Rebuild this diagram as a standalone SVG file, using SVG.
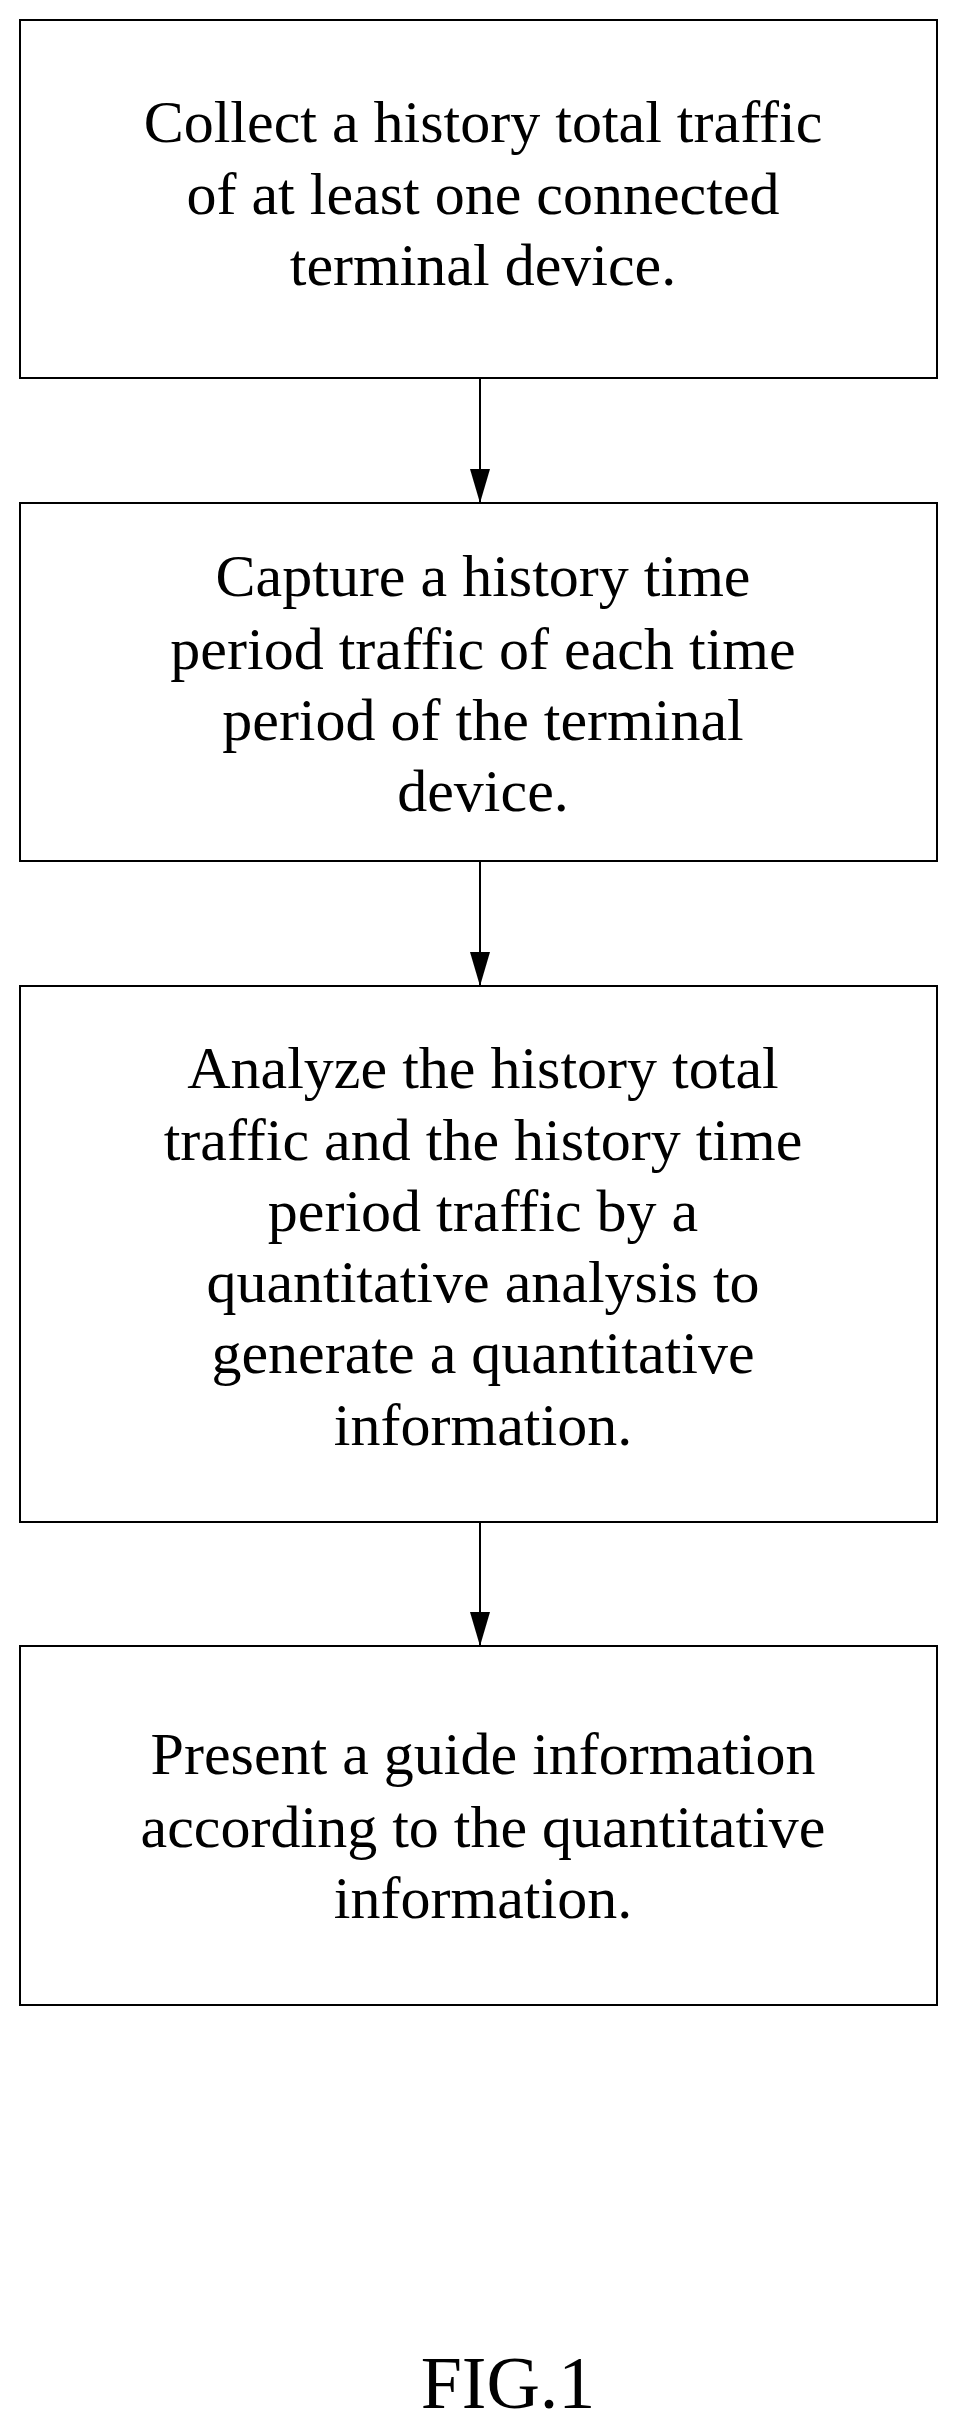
<svg xmlns="http://www.w3.org/2000/svg" width="960" height="2431" viewBox="0 0 960 2431">
<style>
.b{fill:#fff;stroke:#000;stroke-width:2}
.t{font-family:"Liberation Serif",serif;font-size:60px;text-anchor:middle;fill:#000}
.c{stroke:#000;stroke-width:2;fill:none}
</style>
<defs><marker id="a" markerWidth="34" markerHeight="20" refX="34" refY="10" orient="auto" markerUnits="userSpaceOnUse"><path d="M0,0 L34,10 L0,20 Z" fill="#000"/></marker></defs>
<rect width="960" height="2431" fill="#fff"/>
<g id="n1"><rect class="b" x="20" y="20" width="917" height="358"/>
<text class="t"><tspan x="483" y="142">Collect a history total traffic</tspan><tspan x="483" y="214">of at least one connected</tspan><tspan x="483" y="285">terminal device.</tspan></text></g>
<g id="n2"><rect class="b" x="20" y="503" width="917" height="358"/>
<text class="t"><tspan x="483" y="596">Capture a history time</tspan><tspan x="483" y="669">period traffic of each time</tspan><tspan x="483" y="740">period of the terminal</tspan><tspan x="483" y="811">device.</tspan></text></g>
<g id="n3"><rect class="b" x="20" y="986" width="917" height="536"/>
<text class="t"><tspan x="483" y="1088">Analyze the history total</tspan><tspan x="483" y="1160">traffic and the history time</tspan><tspan x="483" y="1231">period traffic by a</tspan><tspan x="483" y="1302">quantitative analysis to</tspan><tspan x="483" y="1373">generate a quantitative</tspan><tspan x="483" y="1445">information.</tspan></text></g>
<g id="n4"><rect class="b" x="20" y="1646" width="917" height="359"/>
<text class="t"><tspan x="483" y="1774">Present a guide information</tspan><tspan x="483" y="1847">according to the quantitative</tspan><tspan x="483" y="1918">information.</tspan></text></g>
<g id="connectors">
<line class="c" x1="480" y1="378" x2="480" y2="503" marker-end="url(#a)"/>
<line class="c" x1="480" y1="861" x2="480" y2="986" marker-end="url(#a)"/>
<line class="c" x1="480" y1="1522" x2="480" y2="1646" marker-end="url(#a)"/>
</g>
<text x="508" y="2408" style="font-family:'Liberation Serif',serif;font-size:74px;text-anchor:middle">FIG.1</text>
</svg>
